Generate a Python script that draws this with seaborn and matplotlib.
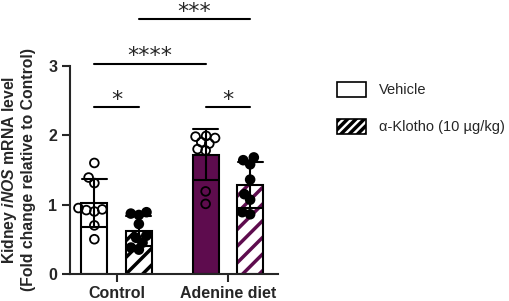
import matplotlib
matplotlib.use("Agg")
import matplotlib.pyplot as plt
from matplotlib.patches import Patch, Rectangle
import pandas as pd
import seaborn as sns

# values
groups = ["Control", "Adenine diet"]
treatments = ["Vehicle", "α-Klotho (10 µg/kg)"]

control_vehicle = [1.60, 1.39, 1.31, 0.95, 0.93, 0.90, 0.92, 0.70, 0.50]
control_klotho = [0.85, 0.87, 0.89, 0.72, 0.55, 0.52, 0.45, 0.38, 0.35]
adenine_vehicle = [1.98, 1.99, 1.96, 1.80, 1.88, 1.90, 1.78, 1.19, 1.01]
adenine_klotho = [1.64, 1.58, 1.68, 1.36, 1.07, 1.15, 0.86, 0.89]

# comparisons: (x from, x to, line height, stars)
sig_pairs = [(-0.2, 0.2, 2.40, "*"), (0.8, 1.2, 2.40, "*"),
             (-0.2, 0.8, 3.03, "****"), (0.2, 1.2, 3.67, "***")]

purple = "#5e0c4e"

rows = []
for grp, trt, vals in [(groups[0], treatments[0], control_vehicle),
                       (groups[0], treatments[1], control_klotho),
                       (groups[1], treatments[0], adenine_vehicle),
                       (groups[1], treatments[1], adenine_klotho)]:
    for v in vals:
        rows.append({"group": grp, "treatment": trt, "value": v})
df = pd.DataFrame(rows)

sns.set_style("ticks")
plt.rcParams["font.family"] = ["Liberation Sans", "DejaVu Sans"]
plt.rcParams["font.weight"] = "bold"
plt.rcParams["mathtext.fontset"] = "custom"
plt.rcParams["mathtext.it"] = "Liberation Sans:italic:bold"
plt.rcParams["mathtext.rm"] = "Liberation Sans:bold"
plt.rcParams["hatch.linewidth"] = 2.5

fig = plt.figure(figsize=(5.10, 3.01), dpi=100)
ax = fig.add_axes([0.137, 0.09, 0.408, 0.91])

sns.barplot(data=df, x="group", y="value", hue="treatment", order=groups,
            hue_order=treatments, errorbar="sd", capsize=0.45, width=0.8,
            gap=0.42, palette={treatments[0]: "white", treatments[1]: "white"},
            edgecolor="black", linewidth=1.5,
            err_kws={"color": "black", "linewidth": 1.5}, legend=False, ax=ax)

# bars come out per hue level: Vehicle (Control, Adenine), Klotho (Control, Adenine)
bars = list(ax.patches)
bars[1].set_facecolor(purple)
for bar, hcol in [(bars[2], "black"), (bars[3], purple)]:
    bar.set_facecolor("white")
    bar.set_edgecolor(hcol)
    bar.set_hatch("//")
    bar.set_linewidth(0)
    ax.add_patch(Rectangle(bar.get_xy(), bar.get_width(), bar.get_height(),
                           fill=False, edgecolor="black", linewidth=1.5, zorder=1.5))

# swarm with small markers first so points overlap like the original
sns.swarmplot(data=df, x="group", y="value", hue="treatment", order=groups,
              hue_order=treatments, dodge=True, size=4.3,
              palette={treatments[0]: "white", treatments[1]: "black"},
              edgecolor="black", linewidth=1.3, legend=False, zorder=3, ax=ax)

for x0, x1, y, stars in sig_pairs:
    ax.plot([x0, x1], [y, y], color="black", lw=1.5, clip_on=False)
    ax.text((x0 + x1) / 2, y + 0.02, stars, ha="center", va="baseline",
            fontsize=16, fontweight="normal", family="DejaVu Sans")

ax.set_xlim(-0.42, 1.45)
ax.set_ylim(0, 3.95)
ax.set_yticks([0, 1, 2, 3])
ax.spines["left"].set_bounds(0, 3)
sns.despine(ax=ax)
for side in ["left", "bottom"]:
    ax.spines[side].set_linewidth(1.5)
ax.tick_params(width=1.5, length=6, labelsize=11.5, pad=3)
ax.set_xlabel("")
ax.set_ylabel("Kidney $\\mathit{iNOS}$ mRNA level\n(Fold change relative to Control)",
              fontsize=11.3, fontweight="bold", linespacing=1.1)
ax.yaxis.set_label_coords(-0.165, 0.38)

handles = [Patch(facecolor="white", edgecolor="black", linewidth=1.2),
           Patch(facecolor="white", edgecolor="black", linewidth=1.2, hatch="////")]
fig.legend(handles, treatments, loc="upper left", bbox_to_anchor=(0.66, 0.728),
           frameon=False, prop={"size": 10.5, "weight": "normal"},
           handlelength=2.05, handleheight=1.25, handletextpad=0.85,
           labelspacing=1.45, borderpad=0, borderaxespad=0)

# lay out the swarm, then freeze it and grow the markers
fig.canvas.draw()
for coll in ax.collections:
    if "draw" in coll.__dict__:
        del coll.draw
    coll.set_sizes([6.3 ** 2])
    fc = coll.get_facecolor()
    if len(fc) and fc[0][0] > 0.9:
        coll.set_facecolor("none")

fig.savefig("out.png", dpi=100)
